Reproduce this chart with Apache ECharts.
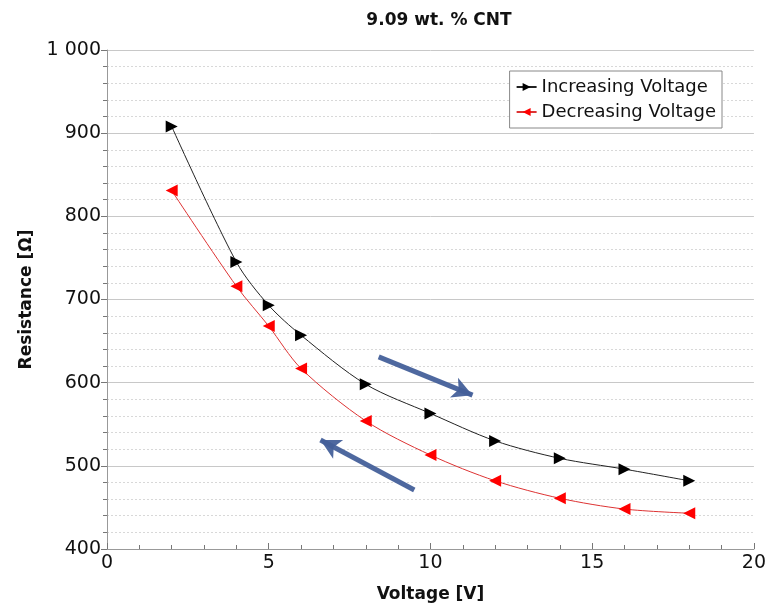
<!DOCTYPE html>
<html><head><meta charset="utf-8">
<script src="https://cdn.jsdelivr.net/npm/echarts@6/dist/echarts.min.js"></script>
<style>html,body{margin:0;padding:0;background:#fff}#c{width:769px;height:608px}</style>
</head><body><div id="c"></div>
<script>
const voltage = [2, 4, 5, 6, 8, 10, 12, 14, 16, 18];
const increasing = [908, 745, 693, 657, 598, 563, 530, 509, 496, 482];
const decreasing = [831, 716, 668, 617, 554, 513, 482, 461, 448, 443];
const titleText = '9.09 wt. % CNT';
const seriesNames = ['Increasing Voltage', 'Decreasing Voltage'];
// annotation arrows (data coords): [start, end]
const arrowUp = [[8.4, 631], [11.3, 585]];
const arrowDown = [[9.5, 471], [6.6, 531]];

const font = 'DejaVu Sans';
const chart = echarts.init(document.getElementById('c'), null, {renderer: 'canvas'});
const pair = (xs, ys) => xs.map((x, i) => [x, ys[i]]);
const arrowLine = (a) => ({
  type: 'line', silent: true, z: 1, data: [],
  markLine: {
    silent: true, symbol: ['none', 'arrow'], symbolSize: [16, 20],
    lineStyle: {color: '#44609a', width: 5, type: 'solid', opacity: 0.95},
    label: {show: false},
    data: [[{coord: a[0]}, {coord: a[1]}]]
  }
});
chart.setOption({
  animation: false,
  title: {text: titleText, left: 434, top: 7, textAlign: 'center',
    textStyle: {fontFamily: font, fontWeight: 'bold', fontSize: 17, color: '#111'}},
  legend: {
    data: seriesNames, orient: 'vertical', right: 47, top: 71,
    backgroundColor: '#fff', borderColor: '#888', borderWidth: 1, borderRadius: 0,
    padding: [7, 6, 7, 6], itemGap: 7, itemWidth: 20, itemHeight: 10,
    textStyle: {fontFamily: font, fontSize: 18, color: '#111'}
  },
  grid: {left: 107, right: 15, top: 50, bottom: 59},
  xAxis: {
    type: 'value', min: 0, max: 20, interval: 5,
    name: 'Voltage [V]', nameLocation: 'middle', nameGap: 37,
    nameTextStyle: {fontFamily: font, fontWeight: 'bold', fontSize: 17, color: '#111'},
    axisLine: {lineStyle: {color: '#999', width: 1}},
    axisTick: {inside: true, length: 6, lineStyle: {color: '#777'}},
    minorTick: {show: true, splitNumber: 5, length: 4, lineStyle: {color: '#777'}},
    axisLabel: {fontFamily: font, fontSize: 19, color: '#111', margin: 5},
    splitLine: {show: false}
  },
  yAxis: {
    type: 'value', min: 400, max: 1000, interval: 100,
    name: 'Resistance [Ω]', nameLocation: 'middle', nameGap: 72,
    nameTextStyle: {fontFamily: font, fontWeight: 'bold', fontSize: 17, color: '#111'},
    axisLine: {show: true, lineStyle: {color: '#999', width: 1}},
    axisTick: {show: true, length: 6, lineStyle: {color: '#777'}},
    minorTick: {show: true, splitNumber: 5, length: 4, lineStyle: {color: '#777'}},
    axisLabel: {fontFamily: font, fontSize: 19, color: '#111', margin: 6,
      formatter: v => v >= 1000 ? Math.floor(v/1000) + ' ' + String(v % 1000).padStart(3, '0') : String(v)},
    splitLine: {show: true, lineStyle: {color: '#c8c8c8', width: 1}},
    minorSplitLine: {show: true, lineStyle: {color: '#d8d8d8', width: 1, type: [2, 2]}}
  },
  series: [
    {name: seriesNames[0], type: 'line', data: pair(voltage, increasing), smooth: 0.3,
     symbol: 'triangle', symbolSize: 12, symbolRotate: -90, z: 3,
     itemStyle: {color: '#000'}, lineStyle: {color: '#222', width: 1}},
    {name: seriesNames[1], type: 'line', data: pair(voltage, decreasing), smooth: 0.3,
     symbol: 'triangle', symbolSize: 12, symbolRotate: 90, z: 3,
     itemStyle: {color: '#ff0000'}, lineStyle: {color: '#d33', width: 1}},
    arrowLine(arrowUp),
    arrowLine(arrowDown)
  ]
});
</script></body></html>
